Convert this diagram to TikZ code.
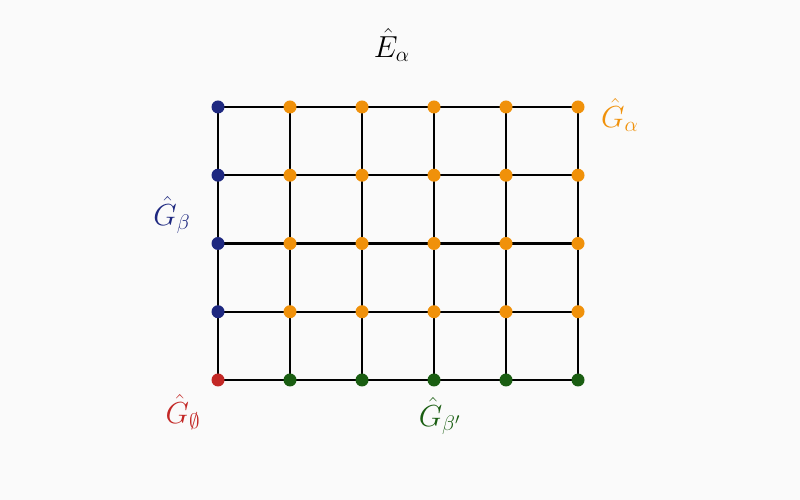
\documentclass[tikz,border=0pt]{standalone}
\usepackage{tikz}
\usetikzlibrary{positioning}

\definecolor{gblue}{RGB}{30,40,128}
\definecolor{gorange}{RGB}{240,145,10}
\definecolor{gred}{RGB}{195,40,38}
\definecolor{ggreen}{RGB}{26,94,18}

\tikzset{
  dot/.style={circle, fill=#1, inner sep=0pt, minimum size=0.26cm},
  gridline/.style={line width=1.2pt, black},
  lbl/.style={font=\fontsize{18}{20}\selectfont, inner sep=0pt}
}

\begin{document}
\begin{tikzpicture}
\fill[white!98!black] (0,0) rectangle (16,10);
\useasboundingbox (0,0) rectangle (16,10);

%lattice points
\foreach \i in {0,...,5}
  \foreach \j in {0,...,4}
    \coordinate (p-\i-\j) at (4.36+1.44*\i, 2.4+1.365*\j);

%grid lines
\foreach \j in {0,...,4}
  \draw[gridline] (p-0-\j) -- (p-5-\j);
\foreach \i in {0,...,5}
  \draw[gridline] (p-\i-0) -- (p-\i-4);

%dots
\node[dot=gred] (d-0-0) at (p-0-0) {};
\foreach \j in {1,...,4}
  \node[dot=gblue] (d-0-\j) at (p-0-\j) {};
\foreach \i in {1,...,5} {
  \node[dot=ggreen] (d-\i-0) at (p-\i-0) {};
  \foreach \j in {1,...,4}
    \node[dot=gorange] (d-\i-\j) at (p-\i-\j) {};
}

%labels
\node[lbl] (ealpha) at (7.84,9.1) {$\hat{E}_\alpha$};
\node[lbl, text=gorange] (galpha) at (12.4,7.7) {$\hat{G}_\alpha$};
\node[lbl, text=gblue] (gbeta) at (3.44,5.7) {$\hat{G}_\beta$};
\node[lbl, text=gred] (gempty) at (3.66,1.76) {$\hat{G}_{\emptyset}$};
\node[lbl, text=ggreen] (gbetap) at (8.8,1.68) {$\hat{G}_{\beta'}$};
\end{tikzpicture}
\end{document}
